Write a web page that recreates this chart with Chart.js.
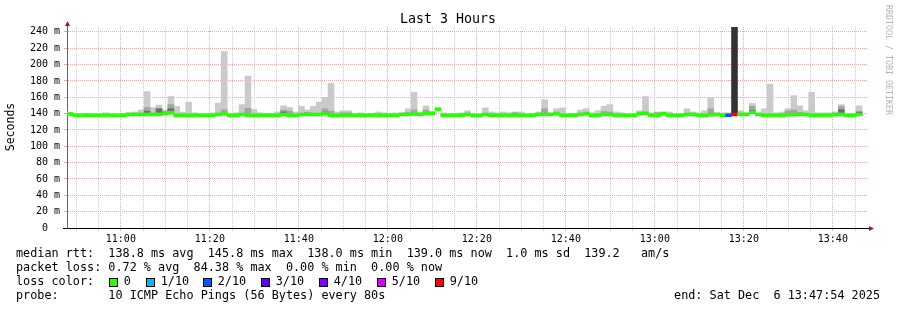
<!doctype html>
<html>

<head>
    <meta charset="utf-8" />
    <title>Last 3 Hours</title>
    <style>
        html,
        body {
            margin: 0px;
            padding: 0px;
            background-color: #ffffff;
        }

        #chart {
            display: block;
        }
    </style>
</head>

<body>
    <canvas id="chart" width="897" height="310"></canvas>

    <script src="https://cdn.jsdelivr.net/npm/chart.js@4.4.1/dist/chart.umd.min.js"></script>

    <script>
        // time axis in minutes after 10:00, graph runs 10:47:54 .. 13:47:54, one bin per 80 s
        var startMin = 47.9;
        var spanMin = 180;
        var stepMin = 80 / 60;

        var timeTicks = [60, 80, 100, 120, 140, 160, 180, 200, 220];
        var timeLabels = ["11:00", "11:20", "11:40", "12:00", "12:20", "12:40", "13:00", "13:20", "13:40"];
        var yLabels = { 0: "0  ", 20: "20 m", 40: "40 m", 60: "60 m", 80: "80 m", 100: "100 m", 120: "120 m", 140: "140 m", 160: "160 m", 180: "180 m", 200: "200 m", 220: "220 m", 240: "240 m" };

        // median rtt per bin (ms)
        var median = [
            139.5, 138, 138, 138, 138, 138, 138, 138, 138, 138,
            139, 139, 139, 139, 139, 139, 140.5, 141, 138, 138,
            138, 138, 138, 138, 138, 139, 140, 138, 138, 139,
            138, 138, 138, 138, 138, 138, 139, 138, 138, 139,
            139, 139, 139, 140.5, 138, 138, 138, 138, 138, 138,
            138, 138, 138, 138, 138, 138, 139, 139, 139.5, 139,
            140, 140.5, 145.5, 138, 138, 138, 138, 139, 138, 138,
            139, 138, 138, 138, 138, 138, 138, 138, 138, 139,
            139, 139, 140, 138, 138, 138, 139, 140, 138, 138,
            139, 139, 138, 138, 138, 138, 140, 140.5, 138, 138,
            140, 138, 138, 138, 139, 139, 138, 138, 138.5, 139,
            138, 138, 139, 139, 139, 141.5, 139, 138, 138, 138,
            138, 138.5, 139, 139, 139, 138, 138, 138, 138, 139,
            139, 138, 138, 139, null
        ];

        // lost pings out of 10 per bin
        var loss = [
            0, 0, 0, 0, 0, 0, 0, 0, 0, 0,
            0, 0, 0, 0, 0, 0, 0, 0, 0, 0,
            0, 0, 0, 0, 0, 0, 0, 0, 0, 0,
            0, 0, 0, 0, 0, 0, 0, 0, 0, 0,
            0, 0, 0, 0, 0, 0, 0, 0, 0, 0,
            0, 0, 0, 0, 0, 0, 0, 0, 0, 0,
            0, 0, 0, 0, 0, 0, 0, 0, 0, 0,
            0, 0, 0, 0, 0, 0, 0, 0, 0, 0,
            0, 0, 0, 0, 0, 0, 0, 0, 0, 0,
            0, 0, 0, 0, 0, 0, 0, 0, 0, 0,
            0, 0, 0, 0, 0, 0, 0, 0, 0, 0,
            0, 2, 9, 0, 0, 0, 0, 0, 0, 0,
            0, 0, 0, 0, 0, 0, 0, 0, 0, 0,
            0, 0, 0, 0, null
        ];

        // smoke: top of outer (lightest) ping spread per bin (ms)
        var smokeOuter = [
            142, 140.5, null, 140.5, null, null, 141, null, null, 140.5,
            141, 142, 144.5, 167, 147.5, 150.5, 144.5, 161, 149, 142,
            154, 141, null, null, 141, 153, 216, null, 141, 151,
            186, 145, 141, 140.5, 140.5, 142, 149.5, 147.5, 142, 149,
            144.5, 149, 154, 160, 177, 142, 143.5, 143.5, 140.5, 141,
            null, 140.5, 142, 141, 140.5, 141, 141, 146, 166, 142,
            149.5, 142, null, 141, null, 140.5, 141, 143.5, null, null,
            147, 142, 141, 142, 141, 142, 142, null, 140.5, 142,
            157, 141, 146, 147, null, 140.5, 144.5, 146, 141, 143.5,
            149, 151, 142, 141, null, null, 143.5, 161, 141, 142,
            142, 142, null, null, 146, 142, 141, 143.5, 159.5, 141,
            141, 141, null, 143.5, 141, 152.5, 141, 146, 176, 141,
            142, 146, 162, 149.5, 143.5, 166, 141, 141, 141, 142,
            151, null, null, 149.5, null
        ];

        var smokeMid = [
            null, null, null, null, null, null, null, null, null, null,
            null, null, null, 147.5, null, 146, null, 151, null, null,
            null, null, null, null, null, null, 144.5, null, null, null,
            146.5, null, null, null, null, null, 144.5, 143, null, null,
            141.5, null, null, 146, 143, null, 141, 141, null, null,
            null, null, null, null, null, null, null, 141, 144.5, null,
            144.5, null, null, null, null, null, null, null, null, null,
            null, null, null, null, null, 141, null, null, null, null,
            146, null, null, null, null, null, null, null, null, null,
            142.5, 142, null, null, null, null, null, 141, null, 141,
            null, null, null, null, null, null, null, null, 146, null,
            null, null, null, null, null, 149, null, null, null, null,
            null, 143.5, 144.5, 141.5, null, null, null, null, null, null,
            149, null, null, 142, null
        ];

        var smokeInner = [
            null, null, null, null, null, null, null, null, null, null,
            null, null, null, 143, null, 146, 142, 146, null, null,
            null, null, null, null, null, null, 141, null, null, null,
            null, null, null, null, null, null, 142, null, null, null,
            null, null, null, 142, null, null, null, null, null, null,
            null, null, null, null, null, null, null, null, null, null,
            141, null, null, null, null, null, null, null, null, null,
            null, null, null, null, null, null, null, null, null, null,
            null, null, null, null, null, null, null, null, null, null,
            null, null, null, null, null, null, null, null, null, null,
            null, null, null, null, null, null, null, null, null, null,
            null, null, null, null, null, 144, null, null, null, null,
            null, null, null, null, null, null, null, null, null, null,
            145, null, null, 142, null
        ];

        var smokeCore = [
            null, null, null, null, null, null, null, null, null, null,
            null, null, null, null, null, null, null, null, null, null,
            null, null, null, null, null, null, null, null, null, null,
            null, null, null, null, null, null, null, null, null, null,
            null, null, null, null, null, null, null, null, null, null,
            null, null, null, null, null, null, null, null, null, null,
            null, null, null, null, null, null, null, null, null, null,
            null, null, null, null, null, null, null, null, null, null,
            null, null, null, null, null, null, null, null, null, null,
            null, null, null, null, null, null, null, null, null, null,
            null, null, null, null, null, null, null, null, null, null,
            null, null, 246, null, null, null, null, null, null, null,
            null, null, null, null, null, null, null, null, null, null,
            null, null, null, null, null
        ];

        var lossColors = { 0: "#26ff00", 1: "#00b8ff", 2: "#0059ff", 3: "#5e00ff", 4: "#7e00ff", 5: "#dd00ff", 9: "#ff0000" };
        var lossLegend = [["0", 0], ["1/10", 1], ["2/10", 2], ["3/10", 3], ["4/10", 4], ["5/10", 5], ["9/10", 9]];

        var mono = '"DejaVu Sans Mono", monospace';
        var majorGrid = "#eaaaaa";
        var minorGrid = "#cdcdcd";

        function binX(i) {
            return startMin + (i + 0.5) * stepMin;
        }

        function smokeData(tops) {
            var out = [];
            tops.forEach(function (top, i) {
                if (top !== null && median[i] !== null) out.push({ x: binX(i), y: [median[i], top] });
            });
            return out;
        }

        var medianData = [];
        var medianColors = [];
        median.forEach(function (m, i) {
            if (m === null) return;
            medianData.push({ x: binX(i), y: [m - 1.8, m + 1.8] });
            medianColors.push(lossColors[loss[i]]);
        });

        function timeLabel(v) {
            var k = timeTicks.indexOf(v);
            return k >= 0 ? timeLabels[k] : "";
        }

        var decor = {
            id: "decor",
            beforeDraw: function (chart) {
                var ctx = chart.ctx;
                ctx.save();
                ctx.fillStyle = "#ffffff";
                ctx.fillRect(0, 0, chart.width, chart.height);
                ctx.restore();
            },
            afterDraw: function (chart) {
                var ctx = chart.ctx;
                var a = chart.chartArea;
                ctx.save();

                // axis stubs + arrows
                ctx.lineWidth = 1;
                ctx.strokeStyle = "#666666";
                ctx.beginPath();
                ctx.moveTo(a.left + 0.5, a.top + 1);
                ctx.lineTo(a.left + 0.5, a.top - 3);
                ctx.stroke();
                ctx.strokeStyle = "#000000";
                ctx.beginPath();
                ctx.moveTo(a.left - 4, a.bottom + 0.5);
                ctx.lineTo(a.left, a.bottom + 0.5);
                ctx.moveTo(a.right, a.bottom + 0.5);
                ctx.lineTo(a.right + 2, a.bottom + 0.5);
                ctx.stroke();
                ctx.fillStyle = "#9b1c1c";
                ctx.beginPath();
                ctx.moveTo(a.left + 0.5 - 2.5, a.top - 1);
                ctx.lineTo(a.left + 0.5 + 2.5, a.top - 1);
                ctx.lineTo(a.left + 0.5, a.top - 6);
                ctx.closePath();
                ctx.fill();
                ctx.beginPath();
                ctx.moveTo(a.right + 1, a.bottom + 0.5 - 2.5);
                ctx.lineTo(a.right + 1, a.bottom + 0.5 + 2.5);
                ctx.lineTo(a.right + 6, a.bottom + 0.5);
                ctx.closePath();
                ctx.fill();

                // title
                ctx.fillStyle = "#000000";
                ctx.font = "13.3px " + mono;
                ctx.textAlign = "center";
                ctx.textBaseline = "middle";
                ctx.fillText("Last 3 Hours", 448, 20);

                // y axis title
                ctx.save();
                ctx.translate(11, 127);
                ctx.rotate(-Math.PI / 2);
                ctx.font = "11.5px " + mono;
                ctx.fillText("Seconds", 0, 0);
                ctx.restore();

                // watermark
                ctx.save();
                ctx.translate(888, 5);
                ctx.rotate(Math.PI / 2);
                ctx.textAlign = "left";
                ctx.fillStyle = "#b4b4b4";
                ctx.font = "8.3px " + mono;
                ctx.fillText("RRDTOOL / TOBI OETIKER", 0, 0);
                ctx.restore();

                // legend block
                ctx.font = "11.8px " + mono;
                ctx.textAlign = "left";
                ctx.fillStyle = "#000000";
                ctx.fillText("median rtt:  138.8 ms avg  145.8 ms max  138.0 ms min  139.0 ms now  1.0 ms sd  139.2   am/s", 16, 254);
                ctx.fillText("packet loss: 0.72 % avg  84.38 % max  0.00 % min  0.00 % now", 16, 268);
                ctx.fillText("loss color:", 16, 282);
                ctx.fillText("probe:       10 ICMP Echo Pings (56 Bytes) every 80s", 16, 296);

                var boxX = [108.7, 145.7, 203.3, 261, 319, 376.7, 435.3];
                lossLegend.forEach(function (item, k) {
                    var bx = Math.round(boxX[k]);
                    ctx.fillStyle = lossColors[item[1]];
                    ctx.fillRect(bx, 278, 8, 8);
                    ctx.strokeStyle = "#000000";
                    ctx.strokeRect(bx + 0.5, 278.5, 8, 8);
                    ctx.fillStyle = "#000000";
                    ctx.fillText(item[0], bx + 14.7, 282);
                });

                ctx.textAlign = "right";
                ctx.fillText("end: Sat Dec  6 13:47:54 2025", 880, 296);

                ctx.restore();
            }
        };

        var gridColor = function (ctx, major) {
            if (!ctx.tick) return minorGrid;
            return ctx.tick.value % major === 0 ? majorGrid : minorGrid;
        };

        new Chart(document.getElementById("chart"), {
            type: "bar",
            data: {
                datasets: [
                    { label: "median", data: medianData, backgroundColor: medianColors, order: 0 },
                    { label: "smoke core", data: smokeData(smokeCore), backgroundColor: "#333333", order: 1 },
                    { label: "smoke inner", data: smokeData(smokeInner), backgroundColor: "#6e6e6e", order: 2 },
                    { label: "smoke mid", data: smokeData(smokeMid), backgroundColor: "#a4a4a4", order: 3 },
                    { label: "smoke outer", data: smokeData(smokeOuter), backgroundColor: "#cacaca", order: 4 }
                ]
            },
            options: {
                responsive: false,
                animation: false,
                devicePixelRatio: 1,
                events: [],
                layout: { padding: { top: 27, right: 29, left: 0, bottom: 0 } },
                plugins: {
                    legend: { display: false },
                    tooltip: { enabled: false }
                },
                datasets: {
                    bar: {
                        grouped: false,
                        barPercentage: 1,
                        categoryPercentage: 1,
                        borderWidth: 0,
                        borderSkipped: false
                    }
                },
                scales: {
                    x: {
                        type: "linear",
                        offset: false,
                        min: startMin,
                        max: startMin + spanMin,
                        afterBuildTicks: function (scale) {
                            var t = [];
                            for (var v = 50; v <= 225; v += 5) t.push({ value: v });
                            scale.ticks = t;
                        },
                        afterFit: function (scale) {
                            scale.height = 82;
                        },
                        ticks: {
                            autoSkip: false,
                            maxRotation: 0,
                            padding: 2,
                            color: "#000000",
                            font: { family: mono, size: 10 },
                            callback: function (v) {
                                return timeLabel(v);
                            }
                        },
                        grid: {
                            offset: false,
                            color: function (ctx) { return gridColor(ctx, 20); },
                            tickColor: function (ctx) { return gridColor(ctx, 20); },
                            tickLength: 3,
                            lineWidth: 1
                        },
                        border: { display: true, color: "#000000", width: 1, dash: [1, 1] }
                    },
                    y: {
                        min: 0,
                        max: 246,
                        afterBuildTicks: function (scale) {
                            var t = [];
                            for (var v = 0; v <= 240; v += 10) t.push({ value: v });
                            scale.ticks = t;
                        },
                        afterFit: function (scale) {
                            scale.width = 67;
                        },
                        ticks: {
                            padding: 4,
                            color: "#000000",
                            font: { family: mono, size: 10 },
                            callback: function (v) {
                                return yLabels[v] !== undefined ? yLabels[v] : "";
                            }
                        },
                        grid: {
                            color: function (ctx) { return gridColor(ctx, 20); },
                            tickColor: function (ctx) { return gridColor(ctx, 20); },
                            tickLength: 3,
                            lineWidth: 1
                        },
                        border: { display: true, color: "#666666", width: 1, dash: [1, 1] }
                    }
                }
            },
            plugins: [decor]
        });
    </script>

</body>

</html>
